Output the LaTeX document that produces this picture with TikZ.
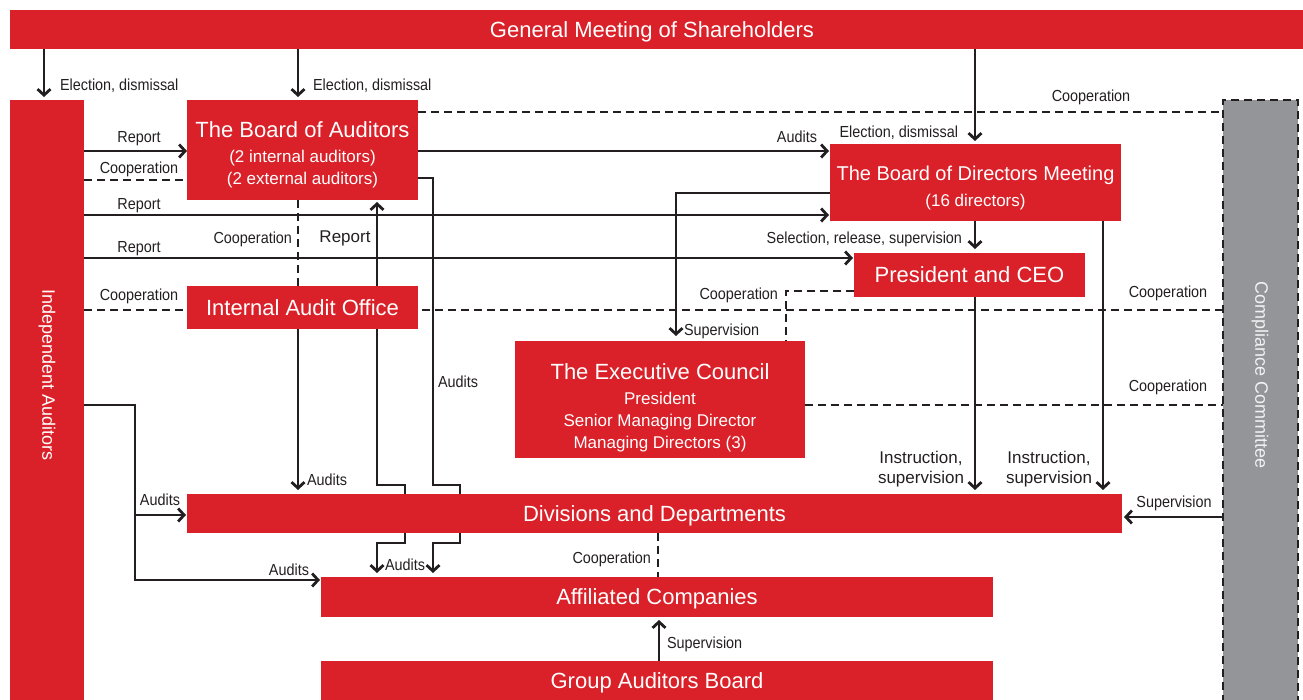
\documentclass[tikz,border=0pt]{standalone}
\usepackage{fontspec}
\setmainfont{Liberation Sans}
\newfontfamily\narrowfont[FakeStretch=0.9]{Liberation Sans}
\newcommand*{\titlefont}{\fontsize{22}{26}\selectfont}
\newcommand*{\subfont}{\fontsize{17}{22}\selectfont}
\newcommand*{\notefont}{\narrowfont\fontsize{16}{19}\selectfont}
\newcommand*{\plainfont}{\fontsize{17}{20}\selectfont}
\definecolor{boxred}{RGB}{218,32,40}
\definecolor{boxgrey}{RGB}{147,149,152}
\definecolor{ink}{RGB}{35,31,32}
\usepackage{tikz}
\usetikzlibrary{arrows.meta}
\usetikzlibrary{backgrounds}
\tikzstyle{base}=[x=1pt, y=-1pt, inner sep=0pt, outer sep=0pt]
\tikzstyle{unit}=[fill=boxred, text=white, align=center, font=\titlefont, text depth=0pt]
\tikzstyle{note}=[text=ink, font=\notefont, text height=11.5pt, text depth=0pt]
\tikzstyle{twoline}=[text=ink, font=\plainfont, align=center]
\tikzstyle{link}=[line width=2.8pt, draw=ink]
\tikzstyle{arr}=[link, -{Straight Barb[length=6pt,width=13pt]}]
\tikzstyle{coop}=[link, dash pattern=on 8pt off 5pt]

\begin{document}
\begin{tikzpicture}[base]
    \path [use as bounding box] (0,0) rectangle (1303,699);
    % boxes
    \node [unit, minimum width=1300pt, minimum height=39pt] (gms) at (660,29.5) {General Meeting of Shareholders\hspace*{16pt}};
    \node [unit, minimum width=74pt, minimum height=620pt] (indep) at (47,410) {};
    \node [text=white, rotate=-90, font=\fontsize{18}{20}\selectfont] at (47,375) {Independent Auditors};
    \node [minimum width=75pt, minimum height=620pt, fill=boxgrey, draw=ink, line width=2.8pt, dash pattern=on 8pt off 5pt] (comp) at (1260.5,410) {};
    \node [text=white!88!boxgrey, rotate=-90, font=\fontsize{18}{20}\selectfont] at (1260,375) {Compliance Committee};
    \node [unit, minimum width=231pt, minimum height=100pt] (boa) at (302.5,150)
        {\rule{0pt}{21pt}The Board of Auditors\\[-1pt]\subfont (2 internal auditors)\\[-4pt]\subfont (2 external auditors)};
    \node [unit, minimum width=291pt, minimum height=77pt] (bod) at (975.5,182.5)
        {\rule{0pt}{21.4pt}\fontsize{20}{24}\selectfont The Board of Directors Meeting\\\subfont (16 directors)};
    \node [unit, minimum width=231pt, minimum height=44pt] (ceo) at (969.5,275) {President and CEO};
    \node [unit, minimum width=231pt, minimum height=43pt] (iao) at (302.5,307.5) {Internal Audit Office};
    \node [unit, minimum width=290pt, minimum height=117pt] (exec) at (660,399.5)
        {\rule{0pt}{28pt}The Executive Council\\[-1pt]\subfont President\\[-4pt]\subfont Senior Managing Director\\[-4pt]\subfont Managing Directors (3)};
    \node [unit, minimum width=935pt, minimum height=39pt] (div) at (654.5,513.5) {Divisions and Departments};
    \node [unit, minimum width=672pt, minimum height=40pt] (aff) at (657,597) {Affiliated Companies};
    \node [unit, minimum width=672pt, minimum height=40pt] (gab) at (657,681) {Group Auditors Board};

    % connectors
    \begin{scope}[on background layer]
        \draw [arr, shorten >=3pt] (gms.south -| 44,0) -- (indep.north -| 44,0);
        \draw [arr, shorten >=3pt] (gms.south -| 298,0) -- (boa.north -| 298,0);
        \draw [arr, shorten >=3pt] (gms.south -| 975,0) -- (bod.north -| 975,0);
        \draw [coop] (boa.east |- 0,112) -- (comp.west |- 0,112);
        \draw [arr] (indep.east |- 0,151) -- (boa.west |- 0,151);
        \draw [coop] (indep.east |- 0,180) -- (boa.west |- 0,180);
        \draw [arr, shorten >=1pt] (boa.east |- 0,151) -- (bod.west |- 0,151);
        \draw [arr, shorten >=1pt] (indep.east |- 0,215) -- (bod.west |- 0,215);
        \draw [arr, shorten >=1pt] (indep.east |- 0,258) -- (ceo.west |- 0,258);
        \draw [arr, shorten >=4pt] (bod.south -| 975,0) -- (ceo.north -| 975,0);
        \draw [coop] (indep.east |- 0,310) -- (comp.west |- 0,310);
        \draw [coop] (boa.south -| 298,0) -- (iao.north -| 298,0);
        \draw [arr, shorten >=2pt] (iao.north -| 377,0) -- (boa.south -| 377,0);
        \draw [arr, shorten >=4pt] (iao.south -| 298,0) -- (div.north -| 298,0);
        \draw [arr, shorten >=4pt] (iao.south -| 377,0) |- (405,485) |- (377,543) -- (aff.north -| 377,0);
        \draw [arr, shorten >=4pt] (boa.east |- 0,178) -| (433,485) -- (460,485) |- (433,543) -- (aff.north -| 433,0);
        \draw [arr, shorten >=5pt] (bod.west |- 0,193) -| (exec.north -| 676,0);
        \draw [coop] (ceo.west |- 0,291) -| (exec.north -| 786,0);
        \draw [coop] (exec.east |- 0,405) -- (comp.west |- 0,405);
        \draw [arr, shorten >=4pt] (ceo.south -| 975,0) -- (div.north -| 975,0);
        \draw [arr, shorten >=4pt] (bod.south -| 1103,0) -- (div.north -| 1103,0);
        \draw [arr, shorten >=2pt] (comp.west |- 0,517) -- (div.east |- 0,517);
        \coordinate (split) at (135,515);
        \draw [arr, shorten >=1pt] (indep.east |- 0,405) -| (135,580) -- (aff.west |- 0,580);
        \draw [arr, shorten >=1pt] (split) -- (div.west |- split);
        \draw [coop] (div.south -| 658,0) -- (aff.north -| 658,0);
        \draw [arr, shorten >=3pt] (gab.north -| 659,0) -- (aff.south -| 659,0);
    \end{scope}

    % labels
    \node [note, anchor=west] at (60,85) {Election, dismissal};
    \node [note, anchor=west] at (313,85) {Election, dismissal};
    \node [note, anchor=east] at (958,132) {Election, dismissal};
    \node [note] at (1091,96) {Cooperation};
    \node [note] at (139,137) {Report};
    \node [note] at (139,168) {Cooperation};
    \node [note, anchor=east] at (817,137) {Audits};
    \node [note] at (139,204) {Report};
    \node [note] at (139,247) {Report};
    \node [note, anchor=east] at (962,238) {Selection, release, supervision};
    \node [note, anchor=east] at (292,238) {Cooperation};
    \node [note, font=\plainfont] at (345,237) {Report};
    \node [note] at (139,295) {Cooperation};
    \node [note, anchor=east] at (778,294) {Cooperation};
    \node [note, anchor=west] at (684,330) {Supervision};
    \node [note] at (1168,292) {Cooperation};
    \node [note, anchor=west] at (438,382) {Audits};
    \node [note] at (1168,386) {Cooperation};
    \node [twoline, anchor=east] at (964,469) {Instruction,\\supervision};
    \node [twoline, anchor=east] at (1092,469) {Instruction,\\supervision};
    \node [note, anchor=west] at (307,480) {Audits};
    \node [note] at (160,500) {Audits};
    \node [note] at (1174,502) {Supervision};
    \node [note, anchor=east] at (651,558) {Cooperation};
    \node [note, anchor=west] at (385,565) {Audits};
    \node [note] at (289,570) {Audits};
    \node [note, anchor=west] at (667,643) {Supervision};
\end{tikzpicture}
\end{document}
